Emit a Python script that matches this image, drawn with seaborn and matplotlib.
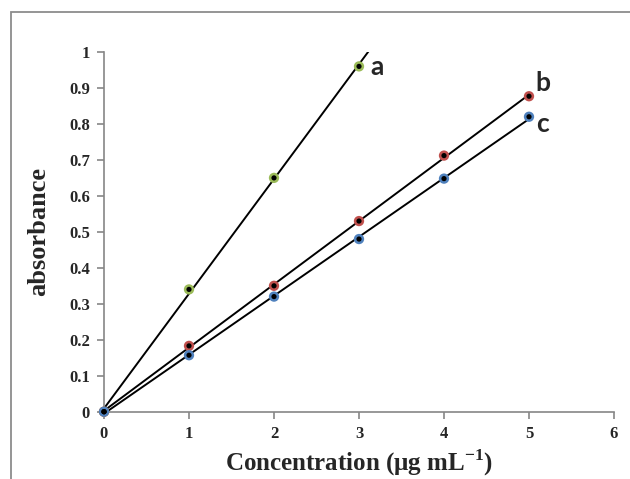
import numpy as np
import seaborn as sns
import matplotlib.pyplot as plt
from matplotlib.patches import Rectangle

conc_a = [0, 1, 2, 3]
abs_a = [0, 0.34, 0.65, 0.96]
conc_bc = [0, 1, 2, 3, 4, 5]
abs_b = [0, 0.183, 0.35, 0.53, 0.712, 0.877]
abs_c = [0, 0.157, 0.32, 0.48, 0.648, 0.82]

series = [
    ('a', conc_a, abs_a, '#9BBB59', 5.0),
    ('b', conc_bc, abs_b, '#C0504D', 5.0),
    ('c', conc_bc, abs_c, '#4F81BD', 5.0),
]
labels_pos = {'a': (3.13, 0.958), 'b': (5.08, 0.914), 'c': (5.08, 0.80)}

sns.set_style('white')
plt.rcParams['font.family'] = ['Liberation Serif', 'DejaVu Serif']
plt.rcParams['mathtext.fontset'] = 'custom'
plt.rcParams['mathtext.rm'] = 'Liberation Serif:bold'

fig = plt.figure(figsize=(6.3, 4.79), dpi=100)
fig.patches.append(Rectangle((11 / 630, -0.1), 1.2, 1.1 - 12 / 479, transform=fig.transFigure,
                             fill=False, edgecolor='#8c8c8c', linewidth=1.3))
ax = fig.add_axes([104 / 630, 1 - 411.7 / 479, 510 / 630, 359.7 / 479])

for name, x, y, col, xend in series:
    slope, icpt = np.polyfit(x, y, 1)
    xs = np.array([0, xend])
    sns.lineplot(x=xs, y=slope * xs + icpt, ax=ax, color='black', linewidth=1.4)
    sns.scatterplot(x=x, y=y, ax=ax, color=col, s=55, edgecolor='none', zorder=3, clip_on=False)
    sns.scatterplot(x=x, y=y, ax=ax, color='black', s=14, edgecolor='none', zorder=4, clip_on=False)
    tx, ty = labels_pos[name]
    ax.text(tx, ty, name, fontsize=19, fontweight='bold', family=['Lato', 'DejaVu Sans'],
            ha='left', va='center')

ax.set_xlim(0, 6)
ax.set_ylim(0, 1)
ax.set_xticks(range(0, 7))
ax.set_yticks(np.round(np.arange(0, 1.01, 0.1), 1))
ax.set_yticklabels(['0'] + [f'{v:.1f}' for v in np.arange(0.1, 0.95, 0.1)] + ['1'])
for s in ['top', 'right']:
    ax.spines[s].set_visible(False)
for s in ['left', 'bottom']:
    ax.spines[s].set_color('#868686')
    ax.spines[s].set_linewidth(1.2)
ax.tick_params(axis='both', direction='out', length=5, width=1.2, color='#868686',
               labelsize=12, pad=5, left=True, bottom=True)
for lab in ax.get_xticklabels() + ax.get_yticklabels():
    lab.set_fontweight('bold')

ax.set_ylabel('absorbance', fontsize=19, fontweight='bold')
ax.set_xlabel(r'Concentration (μg mL$^{-1}$)', fontsize=18, fontweight='bold')
ax.yaxis.set_label_coords(-0.105, 0.5)
ax.xaxis.set_label_coords(0.5, -0.1)

fig.savefig('out.png', dpi=100)
